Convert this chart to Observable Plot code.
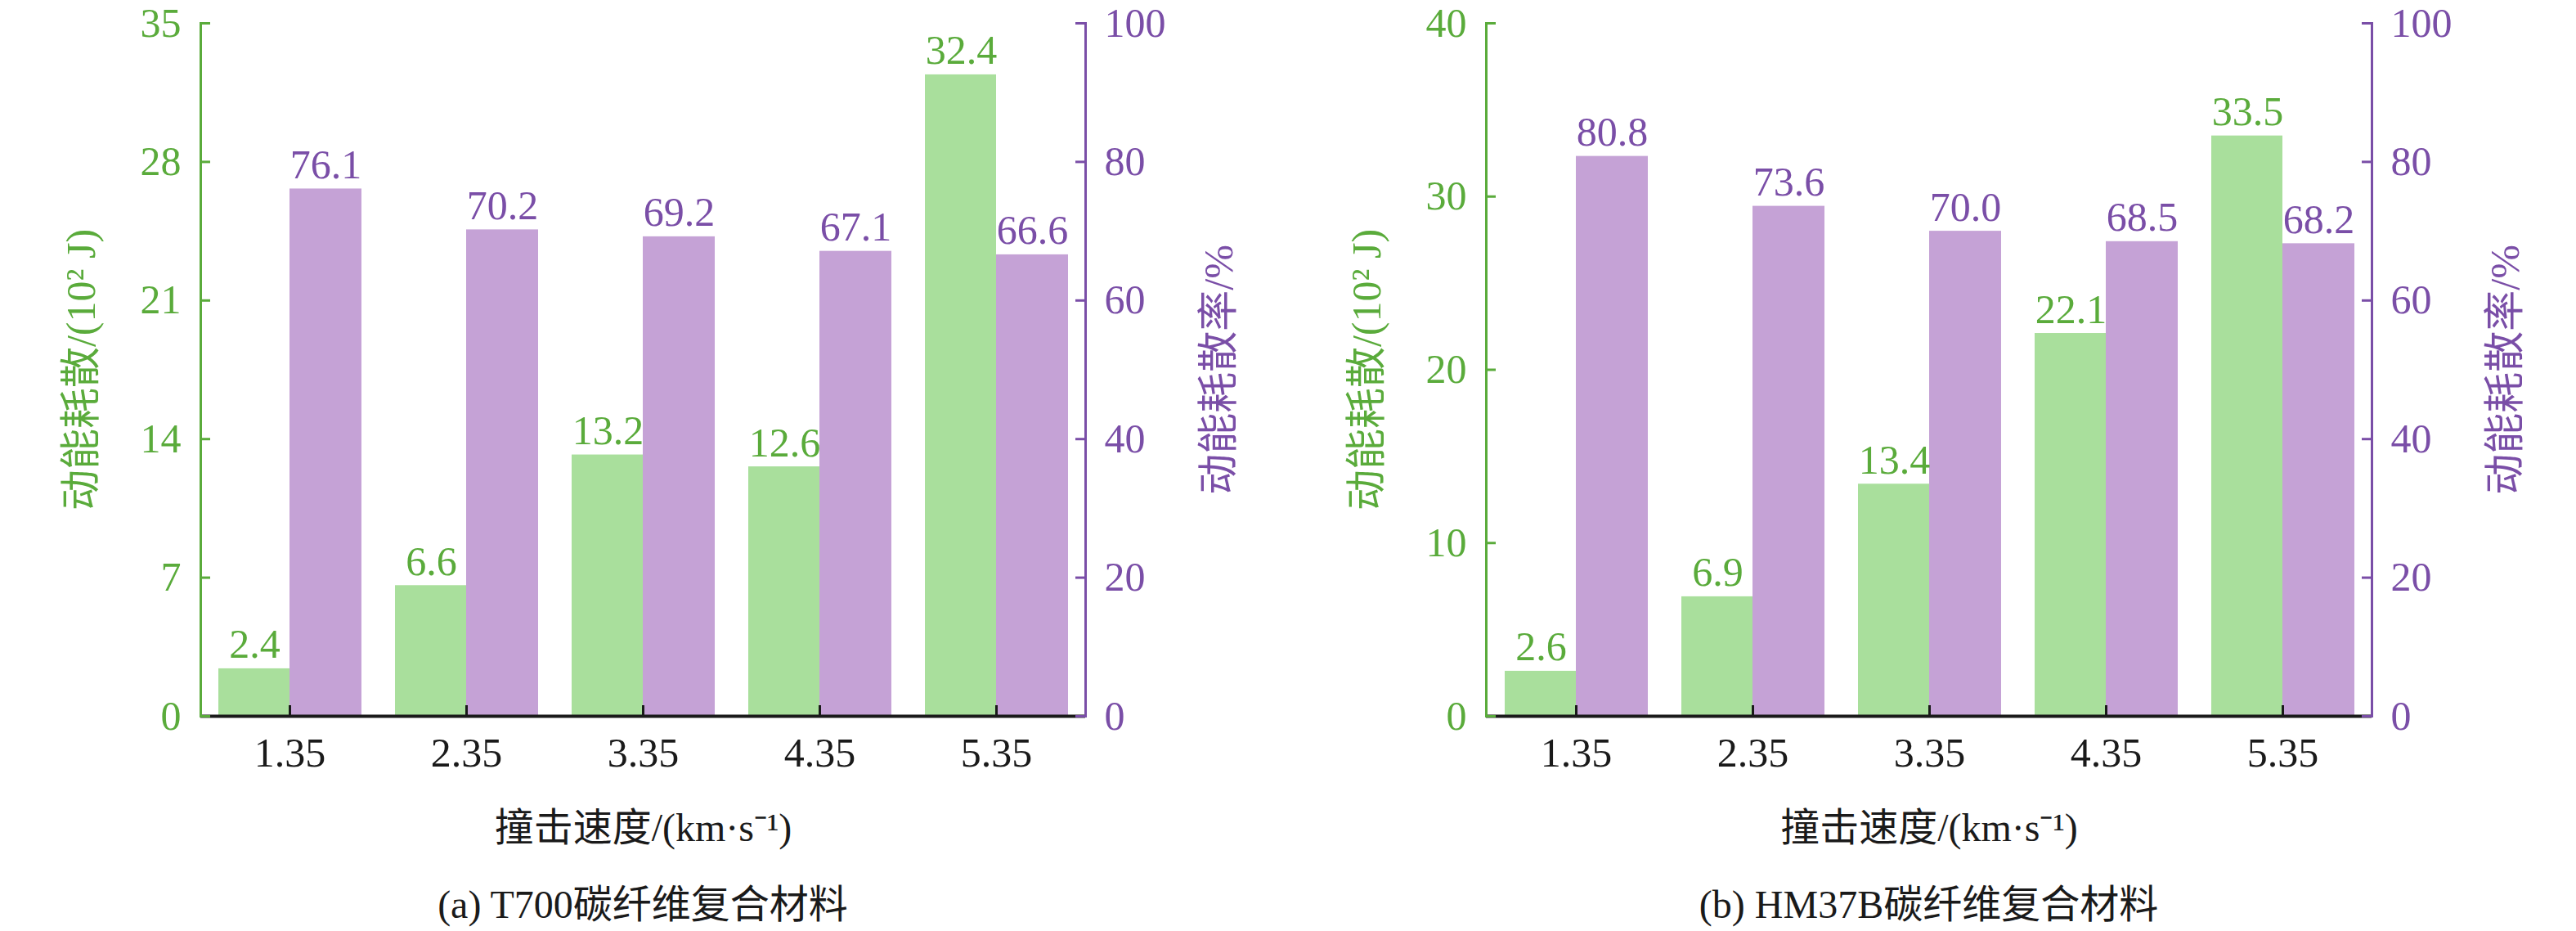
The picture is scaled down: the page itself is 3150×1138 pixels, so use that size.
<!DOCTYPE html>
<html>
<head>
<meta charset="utf-8">
<script src="https://cdn.jsdelivr.net/npm/d3@7"></script>
<script src="https://cdn.jsdelivr.net/npm/@observablehq/plot@0.6"></script>
<style>
  html, body { margin: 0; padding: 0; background: #fff; }
  #wrap { display: flex; width: 3150px; }
  .panel { width: 1575px; }
  .panel svg text { font-family: "Liberation Serif", "Noto Sans CJK SC", serif; }
  .cap { font-family: "Liberation Serif", "Noto Sans CJK SC", serif; font-size: 48px; color: #1a1a1a;
         text-align: center; line-height: 80px; box-sizing: border-box; }
</style>
</head>
<body>
<div id="wrap"></div>
<script>
// ---- data ----
const speeds = ["1.35", "2.35", "3.35", "4.35", "5.35"];
const energyA = [2.4, 6.6, 13.2, 12.6, 32.4];
const rateA = [76.1, 70.2, 69.2, 67.1, 66.6];
const energyB = [2.6, 6.9, 13.4, 22.1, 33.5];
const rateB = [80.8, 73.6, 70.0, 68.5, 68.2];
const leftTicksA = [0, 7, 14, 21, 28, 35];
const leftTicksB = [0, 10, 20, 30, 40];
const rightTicks = [0, 20, 40, 60, 80, 100];
const captions = ["(a) T700碳纤维复合材料", "(b) HM37B碳纤维复合材料"];
const yLabelLeft = "动能耗散/(10² J)";
const yLabelRight = "动能耗散率/%";
const xLabel = "撞击速度/(km·s⁻¹)";

// ---- styles ----
const FONT = '"Liberation Serif", "Noto Sans CJK SC", serif';
const GREEN_BAR = "#a9df9c";
const PURPLE_BAR = "#c5a2d6";
const GREEN_TXT = "#5aab3b";
const PURPLE_TXT = "#7a4ea7";
const BLACK = "#1a1a1a";

function panel(energy, rate, leftTicks, caption, ml, mr) {
  const max = leftTicks[leftTicks.length - 1];
  const k = max / 100;
  const rows = speeds.map((s, i) => ({speed: s, energy: energy[i], rate: rate[i], rateY: rate[i] * k}));
  const W = 1575, H = 1066, mt = 28, mb = 191;
  const plotH = H - mt - mb, plotW = W - ml - mr;
  const txt = {fontFamily: FONT, fontSize: 50};
  const svg = Plot.plot({
    width: W, height: H, marginTop: mt, marginBottom: mb, marginLeft: ml, marginRight: mr,
    style: {fontFamily: FONT, fontSize: "50px", background: "white", overflow: "visible"},
    x: {type: "band", domain: speeds, padding: 0, axis: null},
    y: {domain: [0, max], axis: null},
    marks: [
      Plot.barY(rows, {x: "speed", y: "energy", fill: GREEN_BAR, insetLeft: 21, insetRight: 108}),
      Plot.barY(rows, {x: "speed", y: "rateY", fill: PURPLE_BAR, insetLeft: 108, insetRight: 20}),
      Plot.text(rows, {x: "speed", y: "energy", text: d => d.energy.toFixed(1), dx: -43, dy: -13,
        lineAnchor: "bottom", fill: GREEN_TXT, ...txt}),
      Plot.text(rows, {x: "speed", y: "rateY", text: d => d.rate.toFixed(1), dx: 44, dy: -13,
        lineAnchor: "bottom", fill: PURPLE_TXT, ...txt}),
      Plot.ruleY([0], {stroke: BLACK, strokeWidth: 4}),
      Plot.tickX(speeds, {x: d => d, stroke: BLACK, strokeWidth: 3, insetTop: plotH - 13}),
      Plot.frame({anchor: "left", stroke: GREEN_TXT, strokeWidth: 3}),
      Plot.frame({anchor: "right", stroke: PURPLE_TXT, strokeWidth: 3}),
      Plot.tickY(leftTicks, {y: d => d, stroke: GREEN_TXT, strokeWidth: 3, insetRight: plotW - 12}),
      Plot.tickY(rightTicks, {y: d => d * k, stroke: PURPLE_TXT, strokeWidth: 3, insetLeft: plotW - 12}),
      Plot.axisX({tickSize: 0, tickPadding: 26, label: null, fill: BLACK, ...txt}),
      Plot.axisY({anchor: "left", ticks: leftTicks, tickSize: 0, tickPadding: 24, label: null,
        fill: GREEN_TXT, ...txt}),
      Plot.axisY({anchor: "right", ticks: rightTicks.map(v => v * k), tickFormat: v => String(Math.round(v / k)),
        tickSize: 0, tickPadding: 23, label: null, fill: PURPLE_TXT, ...txt}),
      Plot.text([yLabelLeft], {frameAnchor: "left", rotate: -90, dx: -146, textAnchor: "middle",
        lineAnchor: "middle", fill: GREEN_TXT, ...txt}),
      Plot.text([yLabelRight], {frameAnchor: "right", rotate: -90, dx: 163, textAnchor: "middle",
        lineAnchor: "middle", fill: PURPLE_TXT, ...txt}),
      Plot.text([xLabel], {frameAnchor: "bottom", dy: 137, textAnchor: "middle", lineAnchor: "middle",
        fill: BLACK, fontFamily: FONT, fontSize: 48})
    ]
  });
  const div = document.createElement("div");
  div.className = "panel";
  div.appendChild(svg);
  const cap = document.createElement("div");
  cap.className = "cap";
  cap.style.paddingLeft = ml + "px";
  cap.style.paddingRight = mr + "px";
  cap.textContent = caption;
  div.appendChild(cap);
  return div;
}

const wrap = document.getElementById("wrap");
wrap.appendChild(panel(energyA, rateA, leftTicksA, captions[0], 245, 248));
wrap.appendChild(panel(energyB, rateB, leftTicksB, captions[1], 242, 250));
</script>
</body>
</html>
